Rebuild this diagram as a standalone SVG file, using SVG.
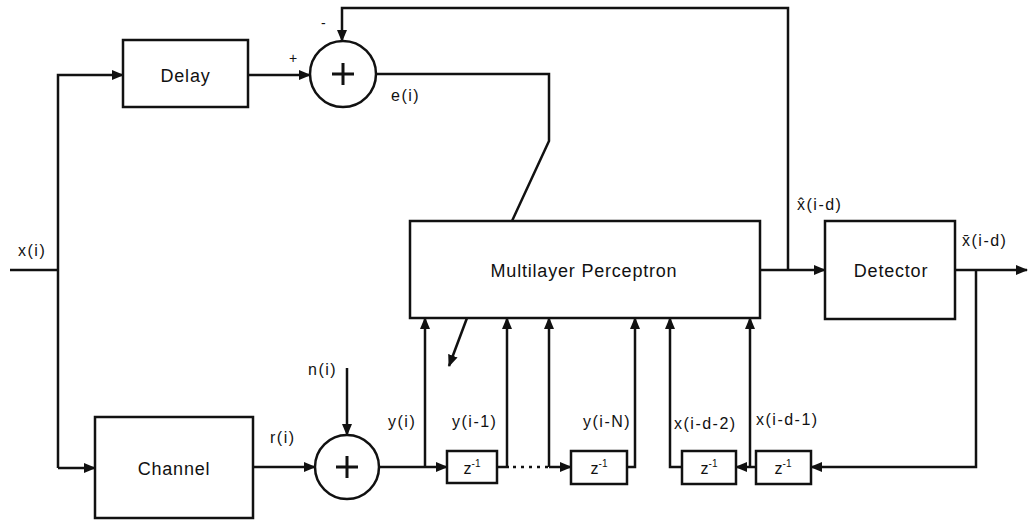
<svg xmlns="http://www.w3.org/2000/svg" width="1031" height="520" viewBox="0 0 1031 520">
<style>
.ln{fill:none;stroke:#111;stroke-width:2.5;stroke-linejoin:miter}
.pl{fill:none;stroke:#111;stroke-width:3}
.arr{fill:none;stroke:#111;stroke-width:2.5;marker-end:url(#ah)}
.box{fill:#fff;stroke:#111;stroke-width:2.5}
.bt{font-family:"Liberation Sans",Arial,sans-serif;font-size:18px;letter-spacing:0.8px;fill:#111;text-anchor:middle}
.lb{font-family:"Liberation Sans",Arial,sans-serif;font-size:16px;letter-spacing:1.5px;fill:#111}
.zt{font-family:"Liberation Sans",Arial,sans-serif;font-size:16px;fill:#111;text-anchor:middle}
.sm{font-family:"Liberation Sans",Arial,sans-serif;font-size:14px;fill:#111}
</style>
<defs>
<marker id="ah" markerWidth="12" markerHeight="10" refX="11" refY="5" orient="auto" markerUnits="userSpaceOnUse">
<path d="M0,0 L12,5 L0,10 Z" fill="#111"/>
</marker>
</defs>
<rect width="1031" height="520" fill="#fff"/>
<g id="connectors">
<path class="ln" d="M10,270 H58"/>
<path class="arr" d="M58,468 V75 H123"/>
<path class="arr" d="M58,468 H95"/>
<path class="arr" d="M248,75 H310"/>
<path class="ln" d="M376,74 H549 V141 L512,221"/>
<path class="arr" d="M788,270 V8 H342 V41"/>
<path class="arr" d="M760,270 H825"/>
<path class="arr" d="M955,270 H1027"/>
<path class="arr" d="M976,270 V467 H811"/>
<path class="arr" d="M756,467 H736"/>
<path class="arr" d="M750,467 V318"/>
<path class="arr" d="M682,467 H670 V318"/>
<path class="arr" d="M627,467 H635 V318"/>
<path class="arr" d="M549,467 H571"/>
<path class="arr" d="M549,467 V318"/>
<path class="arr" d="M507,467 V318"/>
<path class="ln" d="M497,467 H509"/>
<path class="ln" d="M513,467 H549" stroke-dasharray="3,5"/>
<path class="arr" d="M253,467 H315"/>
<path class="arr" d="M379,467 H447"/>
<path class="arr" d="M425,467 V318"/>
<path class="arr" d="M347,368 V435"/>
<path class="arr" d="M467,318 L449,366"/>
</g>
<g id="delay">
<rect class="box" x="123" y="40" width="125" height="67"/>
<text class="bt" x="185.5" y="82">Delay</text>
</g>
<g id="sum1">
<circle class="box" cx="343" cy="74" r="33"/>
<path class="pl" d="M332,74 H354 M343,63 V85"/>
</g>
<g id="channel">
<rect class="box" x="95" y="417" width="158" height="101"/>
<text class="bt" x="174" y="475">Channel</text>
</g>
<g id="sum2">
<circle class="box" cx="347" cy="467" r="32"/>
<path class="pl" d="M336,467 H358 M347,456 V478"/>
</g>
<g id="mlp">
<rect class="box" x="410" y="221" width="350" height="97"/>
<text class="bt" x="584" y="277">Multilayer Perceptron</text>
</g>
<g id="detector">
<rect class="box" x="825" y="221" width="130" height="98"/>
<text class="bt" x="891" y="277">Detector</text>
</g>
<g id="z1">
<rect class="box" x="447" y="451" width="50" height="32"/>
<text class="zt" x="472" y="474">z<tspan font-size="10" dy="-7">-1</tspan></text>
</g>
<g id="z2">
<rect class="box" x="571" y="451" width="56" height="33"/>
<text class="zt" x="599" y="474">z<tspan font-size="10" dy="-7">-1</tspan></text>
</g>
<g id="z3">
<rect class="box" x="682" y="451" width="54" height="33"/>
<text class="zt" x="709" y="474">z<tspan font-size="10" dy="-7">-1</tspan></text>
</g>
<g id="z4">
<rect class="box" x="756" y="451" width="55" height="33"/>
<text class="zt" x="783" y="474">z<tspan font-size="10" dy="-7">-1</tspan></text>
</g>
<g id="labels">
<text class="lb" x="18" y="256">x(i)</text>
<text class="lb" x="391" y="101">e(i)</text>
<text class="sm" x="289" y="63">+</text>
<text class="sm" x="321" y="28">-</text>
<text class="lb" x="308" y="375">n(i)</text>
<text class="lb" x="270" y="443">r(i)</text>
<text class="lb" x="388" y="427">y(i)</text>
<text class="lb" x="452" y="427">y(i-1)</text>
<text class="lb" x="583" y="427">y(i-N)</text>
<text class="lb" x="674" y="429">x(i-d-2)</text>
<text class="lb" x="756" y="425">x(i-d-1)</text>
<text class="lb" x="797" y="210">x̂(i-d)</text>
<text class="lb" x="962" y="246">x̄(i-d)</text>
</g>
</svg>
